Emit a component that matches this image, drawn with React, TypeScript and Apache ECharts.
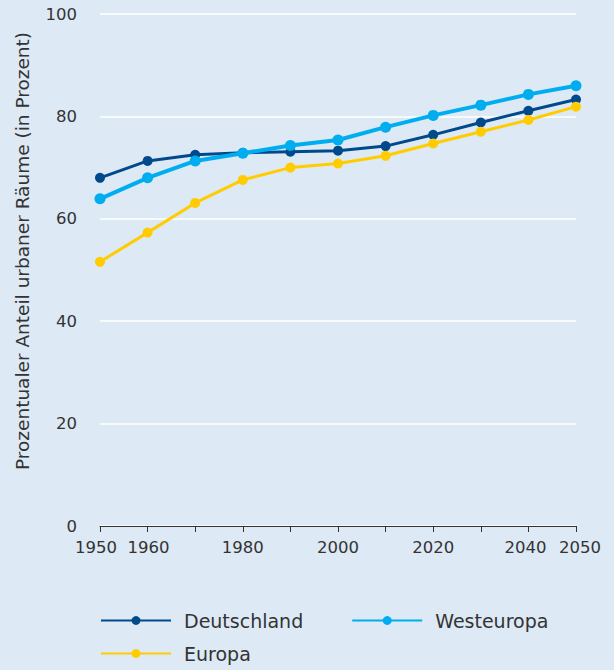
import React, { useEffect, useRef } from "react";
import * as echarts from "echarts";

const years = [1950, 1960, 1970, 1980, 1990, 2000, 2010, 2020, 2030, 2040, 2050];
const deutschland = [68.0, 71.3, 72.5, 72.9, 73.1, 73.3, 74.2, 76.4, 78.8, 81.1, 83.3];
const westeuropa = [63.9, 68.0, 71.3, 72.8, 74.3, 75.4, 77.9, 80.2, 82.2, 84.3, 86.0];
const europa = [51.6, 57.3, 63.1, 67.6, 70.0, 70.8, 72.3, 74.7, 77.0, 79.3, 81.9];
const shownYearLabels = [1950, 1960, 1980, 2000, 2020, 2040, 2050];
const yTicks = [0, 20, 40, 60, 80, 100];
const yTitle = "Prozentualer Anteil urbaner Räume (in Prozent)";

const FONT = "DejaVu Sans";
const TEXT = "#333333";

export default function App() {
  const ref = useRef<HTMLDivElement>(null);
  useEffect(() => {
    if (!ref.current) return;
    const chart = echarts.init(ref.current, null, { renderer: "svg" });
    const mk = (name: string, data: number[], color: string, width: number, size: number) => ({
      name,
      type: "line",
      data: years.map((y, i) => [y, data[i]]),
      symbol: "circle",
      symbolSize: size,
      lineStyle: { color, width },
      itemStyle: { color },
      z: name === "Westeuropa" ? 3 : 2,
    });
    const legendCommon = {
      itemWidth: 70,
      itemHeight: 11,
      itemGap: 48,
      textStyle: { fontFamily: FONT, fontSize: 19, color: TEXT, padding: [0, 0, 0, 8] },
      padding: 0,
    };
    const labelStyle = { fontFamily: FONT, fontSize: 16.5, color: TEXT };
    const tok = (pad: number[]) => ({
      fontFamily: FONT,
      fontSize: 16.5,
      color: TEXT,
      padding: pad,
    });
    chart.setOption({
      animation: false,
      backgroundColor: "#dde9f5",
      grid: { left: 100, right: 38, top: 14, bottom: 144 },
      legend: [
        { ...legendCommon, data: ["Deutschland", "Westeuropa"], left: 100, top: 611 },
        { ...legendCommon, data: ["Europa"], left: 100, top: 644 },
      ],
      graphic: [
        {
          type: "text",
          x: 22,
          y: 251,
          rotation: Math.PI / 2,
          style: {
            text: yTitle,
            fontFamily: FONT,
            fontSize: 18.5,
            fill: TEXT,
            textAlign: "center",
            textVerticalAlign: "middle",
          },
        },
      ],
      xAxis: {
        type: "value",
        min: 1950,
        max: 2050,
        interval: 10,
        axisLine: { show: true, lineStyle: { color: "#333333", width: 1 } },
        axisTick: { show: true, length: 6, lineStyle: { color: "#333333" } },
        splitLine: { show: false },
        axisLabel: {
          ...labelStyle,
          margin: 13,
          formatter: (v: number) => {
            if (!shownYearLabels.includes(v)) return "";
            if (v === 1950) return `{sl|${v}}`;
            if (v === 2040) return `{sl2|${v}}`;
            if (v === 2050) return `{sr|${v}}`;
            if (v === 1960) return `{sr1|${v}}`;
            return `{n|${v}}`;
          },
          rich: {
            n: tok([0, 0, 0, 0]),
            sl: tok([0, 8, 0, 0]),
            sl2: tok([0, 6, 0, 0]),
            sr: tok([0, 0, 0, 8]),
            sr1: tok([0, 0, 0, 2]),
          },
        },
      },
      yAxis: {
        type: "value",
        min: yTicks[0],
        max: yTicks[yTicks.length - 1],
        interval: 20,
        axisLine: { show: false },
        axisTick: { show: false },
        splitLine: { lineStyle: { color: "#ffffff", width: 1.5 } },
        axisLabel: { ...labelStyle, margin: 23 },
      },
      series: [
        mk("Deutschland", deutschland, "#004a8c", 3, 10),
        mk("Westeuropa", westeuropa, "#00aeef", 4, 11),
        mk("Europa", europa, "#ffcc00", 3, 10),
      ],
    });
    return () => chart.dispose();
  }, []);
  return <div ref={ref} style={{ width: 614, height: 670, position: "absolute", left: 0, top: 0 }} />;
}
